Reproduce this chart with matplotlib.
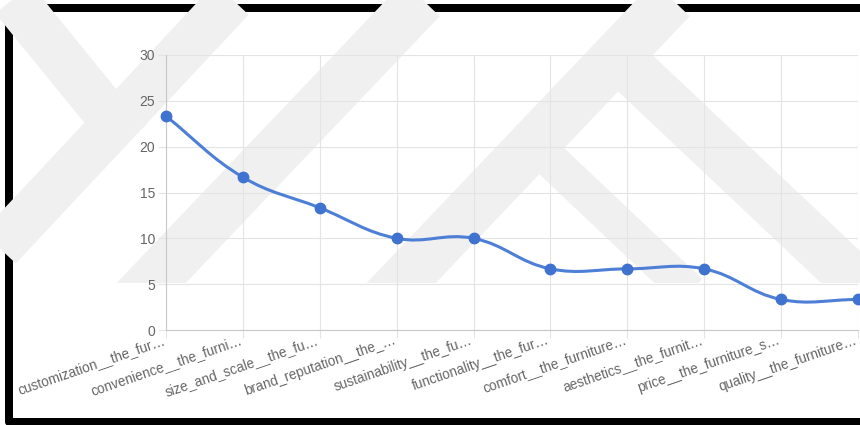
import numpy as np
import matplotlib
matplotlib.use("Agg")
import matplotlib.pyplot as plt
from matplotlib.path import Path
from matplotlib.patches import PathPatch, Rectangle
from matplotlib.transforms import offset_copy

categories = [
    "customization__the_fur\u2026",
    "convenience__the_furni\u2026",
    "size_and_scale__the_fu\u2026",
    "brand_reputation__the_\u2026",
    "sustainability__the_fu\u2026",
    "functionality__the_fur\u2026",
    "comfort__the_furniture\u2026",
    "aesthetics__the_furnit\u2026",
    "price__the_furniture_s\u2026",
    "quality__the_furniture\u2026",
]
values = [23.33, 16.67, 13.33, 10.0, 10.0, 6.67, 6.67, 6.67, 3.33, 3.33]
y_ticks = [0, 5, 10, 15, 20, 25, 30]

LINE = "#4d7fd6"
DOT = "#4072cf"
GRID = "#e4e4e4"
AXIS = "#c8c8c8"
TEXT = "#666666"

W, H = 860, 425
plt.rcParams["font.family"] = ["Liberation Sans", "DejaVu Sans"]


def spline_path(xs, ys, sx, sy, tension=0.4):
    # chart.js style cubic interpolation, distances measured in pixels
    n = len(xs)
    cp_prev, cp_next = [], []
    for i in range(n):
        p0 = (xs[max(i - 1, 0)], ys[max(i - 1, 0)])
        p1 = (xs[i], ys[i])
        p2 = (xs[min(i + 1, n - 1)], ys[min(i + 1, n - 1)])
        d01 = np.hypot((p1[0] - p0[0]) * sx, (p1[1] - p0[1]) * sy)
        d12 = np.hypot((p2[0] - p1[0]) * sx, (p2[1] - p1[1]) * sy)
        tot = d01 + d12
        s01 = d01 / tot if tot else 0
        s12 = d12 / tot if tot else 0
        fa, fb = tension * s01, tension * s12
        dx, dy = p2[0] - p0[0], p2[1] - p0[1]
        cp_prev.append((p1[0] - fa * dx, p1[1] - fa * dy))
        cp_next.append((p1[0] + fb * dx, p1[1] + fb * dy))
    verts = [(xs[0], ys[0])]
    codes = [Path.MOVETO]
    for i in range(n - 1):
        verts += [cp_next[i], cp_prev[i + 1], (xs[i + 1], ys[i + 1])]
        codes += [Path.CURVE4] * 3
    return Path(verts, codes)


fig = plt.figure(figsize=(W / 100, H / 100), dpi=100)

# background layer in pixel coords: watermark bands and black frame
bg = fig.add_axes([0, 0, 1, 1], zorder=0)
bg.set_xlim(0, W)
bg.set_ylim(H, 0)
bg.axis("off")
clip = Rectangle((0, 0), W, 283, transform=bg.transData, visible=False)
bg.add_patch(clip)
bands = [
    ((10, -5), (128, 140), 46),
    ((-50, 300), (245, -15), 46),
    ((135, 300), (435, -15), 50),
    ((385, 300), (685, -15), 50),
    ((600, 40), (865, 290), 50),
    ((540, 150), (690, 292), 36),
]
for (x0, y0), (x1, y1), w in bands:
    ln, = bg.plot([x0, x1], [y0, y1], color="#f0f0f0", lw=w * 0.72,
                  solid_capstyle="butt")
    ln.set_clip_path(clip)
bg.add_patch(Rectangle((9, 8), 1000, 414, fill=False, ec="black", lw=8 * 0.72,
                       joinstyle="round"))

ax = fig.add_axes([166 / W, 1 - 330 / H, (858 - 166) / W, 275 / H], zorder=1)
ax.patch.set_alpha(0)
x = np.arange(len(values))
ax.set_xlim(0, len(values) - 1)
ax.set_ylim(0, 30)

sx = (858 - 166) / (len(values) - 1)
sy = 275 / 30
ax.add_patch(PathPatch(spline_path(x, values, sx, sy), fill=False, ec=LINE,
                       lw=2.2, capstyle="round", zorder=3))
ax.plot(x, values, "o", color=DOT, ms=7.5, zorder=4, clip_on=False)

ax.set_yticks(y_ticks)
ax.set_xticks(x)
ax.set_xticklabels([])
# rotated category labels, right-top corner just below each tick
lab_tr = offset_copy(ax.get_xaxis_transform(), fig=fig, x=-4, y=-3, units="dots")
for i, name in zip(x, categories):
    ax.text(i, 0, name, transform=lab_tr, rotation=19, ha="right", va="top",
            rotation_mode="anchor", fontsize=9.8, color=TEXT, clip_on=False)

ax.grid(True, color=GRID, lw=0.8)
ax.set_axisbelow(True)
ax.tick_params(axis="both", colors=GRID, labelcolor=TEXT, length=6, width=0.8)
ax.tick_params(axis="y", pad=2, labelsize=10)
for s in ["top", "right"]:
    ax.spines[s].set_visible(False)
for s in ["left", "bottom"]:
    ax.spines[s].set_color(AXIS)
    ax.spines[s].set_linewidth(0.8)

fig.savefig("out.png", dpi=100)
